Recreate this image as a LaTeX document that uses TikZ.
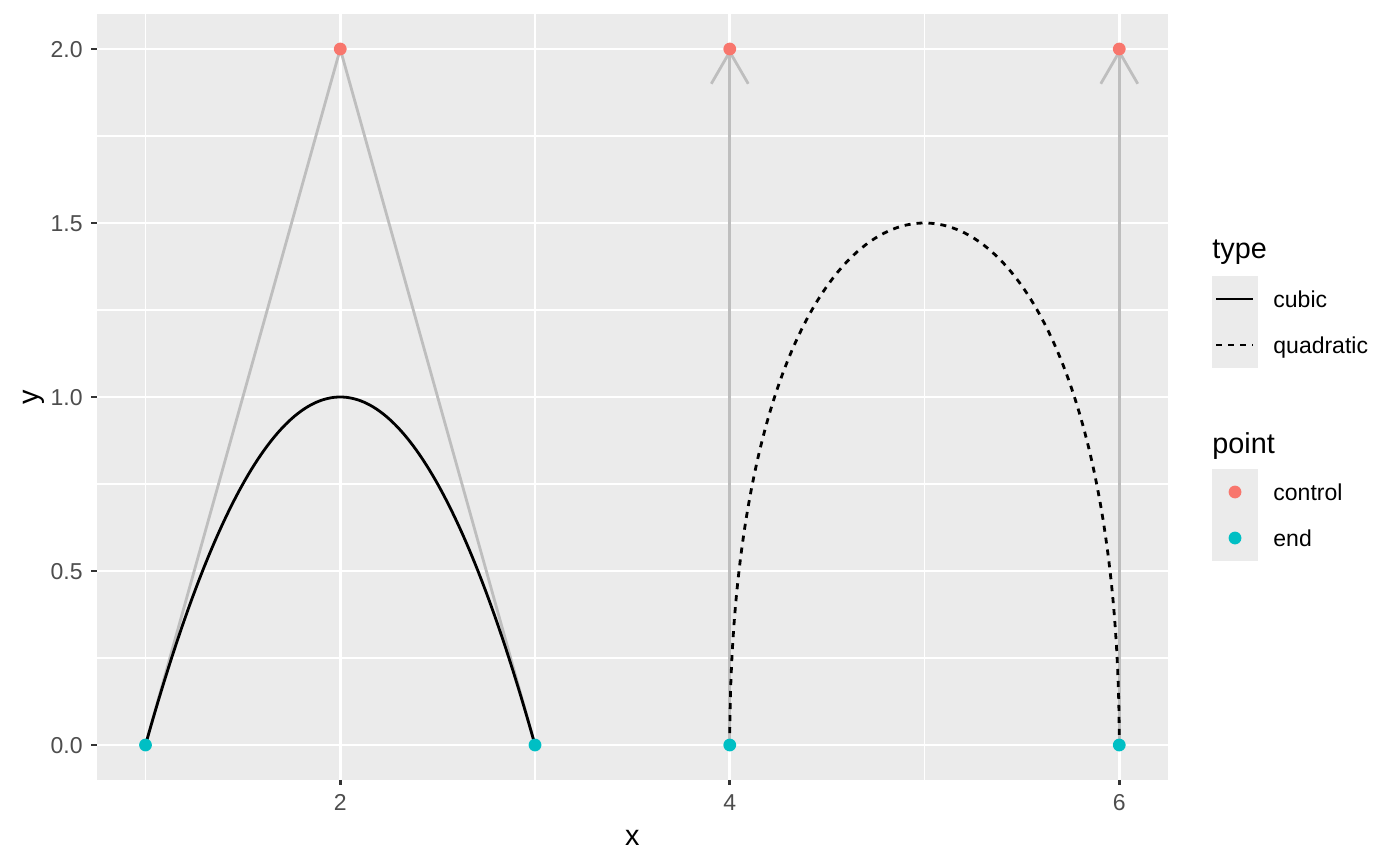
\documentclass[tikz,border=0pt]{standalone}
\usepackage{fontspec}
\setmainfont{Liberation Sans}
\usetikzlibrary{arrows.meta}
\definecolor{panelbg}{HTML}{EBEBEB}
\definecolor{ctrlcol}{HTML}{F8766D}
\definecolor{endcol}{HTML}{00BFC4}
\definecolor{guidecol}{HTML}{BEBEBE}
\definecolor{ticktext}{HTML}{4D4D4D}
\definecolor{tickline}{HTML}{333333}
\begin{document}
\begin{tikzpicture}[x=0.5pt,y=-0.5pt,
  majorgrid/.style={white,line width=1.4pt},
  minorgrid/.style={white,line width=0.7pt},
  tickmark/.style={tickline,line width=1.4pt},
  ticklab/.style={ticktext,font=\fontsize{11.5}{13}\selectfont,inner sep=0pt},
  axtitle/.style={black,font=\fontsize{14.4}{16}\selectfont,inner sep=0pt},
  legtitle/.style={black,font=\fontsize{14.4}{16}\selectfont,inner sep=0pt,anchor=base west},
  leglab/.style={black,font=\fontsize{11.5}{13}\selectfont,inner sep=0pt,anchor=base west},
  guideline/.style={guidecol,line width=1.4pt},
  guidearrow/.style={guideline,-{Straight Barb[length=16pt,width=18.5pt]}},
  curve/.style={black,line width=1.4pt},
  dashcurve/.style={curve,dash pattern=on 3pt off 3pt},
  ctrldot/.style={circle,fill=ctrlcol,inner sep=0pt,minimum size=6.4pt},
  enddot/.style={circle,fill=endcol,inner sep=0pt,minimum size=6.4pt},
  keybox/.style={fill=panelbg,draw=none}]
\useasboundingbox (0,0) rectangle (1400,866);
\fill[white] (0,0) rectangle (1400,866);
% panel
\fill[panelbg] (96.81,14.2) rectangle (1167.94,779.8);
% minor grid
\foreach \xx in {145.5,535,924.5} \draw[minorgrid] (\xx,14.2) -- (\xx,779.8);
\foreach \yy in {658,484,310,136} \draw[minorgrid] (96.81,\yy) -- (1167.94,\yy);
% major grid
\foreach \xx in {340.25,729.75,1119.25} \draw[majorgrid] (\xx,14.2) -- (\xx,779.8);
\foreach \yy in {745,571,397,223,49} \draw[majorgrid] (96.81,\yy) -- (1167.94,\yy);
% data coordinates
\coordinate (a0) at (145.5,745);
\coordinate (a1) at (340.25,49);
\coordinate (a2) at (535,745);
\coordinate (qa) at (275.33,281);
\coordinate (qb) at (405.17,281);
\coordinate (b0) at (729.75,745);
\coordinate (b1) at (729.75,49);
\coordinate (b2) at (1119.25,49);
\coordinate (b3) at (1119.25,745);
% guide paths
\draw[guideline] (a0) -- (a1) -- (a2);
\draw[guidearrow] (b0) -- (b1);
\draw[guidearrow] (b3) -- (b2);
% curves
\draw[curve] (a0) .. controls (qa) and (qb) .. (a2);
\draw[dashcurve] (b0) .. controls (b1) and (b2) .. (b3);
% points
\node[enddot] (pa0) at (a0) {};
\node[ctrldot] (pa1) at (a1) {};
\node[enddot] (pa2) at (a2) {};
\node[enddot] (pb0) at (b0) {};
\node[ctrldot] (pb1) at (b1) {};
\node[ctrldot] (pb2) at (b2) {};
\node[enddot] (pb3) at (b3) {};
% y axis ticks and labels
\foreach \yy/\lab in {745/0.0,571/0.5,397/1.0,223/1.5,49/2.0} {
  \draw[tickmark] (91.3,\yy) -- (96.81,\yy);
  \node[ticklab,anchor=base east] at (83,\yy+8.2) {\lab};
}
% x axis ticks and labels
\foreach \xx/\lab in {340.25/2,729.75/4,1119.25/6} {
  \draw[tickmark] (\xx,779.8) -- (\xx,785.3);
  \node[ticklab,anchor=base] at (\xx,810) {\lab};
}
% axis titles
\node[axtitle,anchor=base] (xtitle) at (632.4,845) {x};
\node[axtitle,anchor=base,rotate=90] (ytitle) at (38,397) {y};
% legend: type
\node[legtitle] (typetitle) at (1212,258) {type};
\fill[keybox] (1212,276) rectangle (1258,368);
\draw[curve] (1216,299) -- (1253,299);
\draw[dashcurve] (1216,345) -- (1253,345);
\node[leglab] (cubiclab) at (1273,307) {cubic};
\node[leglab] (quadlab) at (1273,353) {quadratic};
% legend: point
\node[legtitle] (pointtitle) at (1212,453) {point};
\fill[keybox] (1212,469) rectangle (1258,561);
\node[ctrldot] (kc) at (1235,492) {};
\node[enddot] (ke) at (1235,538) {};
\node[leglab] (ctrllab) at (1273,500) {control};
\node[leglab] (endlab) at (1273,546) {end};
\end{tikzpicture}
\end{document}
